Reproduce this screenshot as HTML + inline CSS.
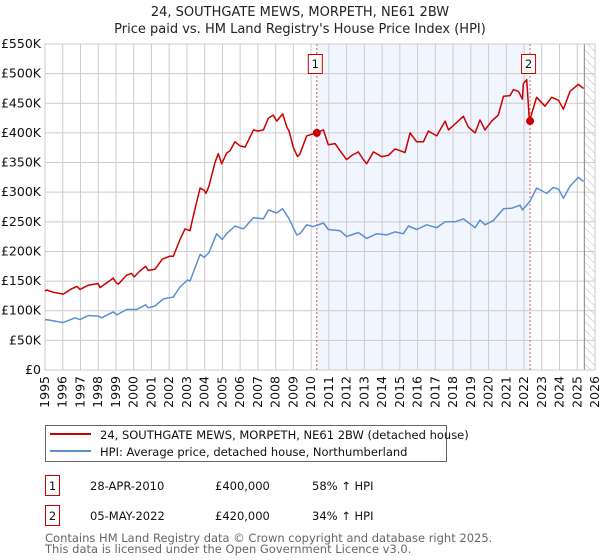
<!DOCTYPE html>
<html><head><meta charset="utf-8"><style>
body{margin:0;background:#fff;font-family:"Liberation Sans","DejaVu Sans",sans-serif}
svg{display:block}
</style></head><body>
<svg id="c" width="600" height="560" viewBox="0 0 600 560" font-family="DejaVu Sans, Liberation Sans, sans-serif">
<defs><pattern id="hatch" width="6" height="6" patternUnits="userSpaceOnUse" patternTransform="rotate(-45)"><line x1="0" y1="0" x2="0" y2="6" stroke="#bbb" stroke-width="1"/></pattern></defs>
<text x="300" y="16" text-anchor="middle" font-size="13" fill="#222">24, SOUTHGATE MEWS, MORPETH, NE61 2BW</text>
<text x="300" y="33" text-anchor="middle" font-size="13" fill="#222">Price paid vs. HM Land Registry's House Price Index (HPI)</text>
<g id="plot"></g>
<g>
<rect x="45.5" y="425.5" width="401" height="36" fill="#fff" stroke="#666"/>
<line x1="50" y1="434" x2="91" y2="434" stroke="#cc0000" stroke-width="2"/>
<text x="100" y="439" font-size="11.5" fill="#111">24, SOUTHGATE MEWS, MORPETH, NE61 2BW (detached house)</text>
<line x1="50" y1="451" x2="91" y2="451" stroke="#5b8fd0" stroke-width="2"/>
<text x="100" y="456" font-size="11.5" fill="#111">HPI: Average price, detached house, Northumberland</text>
</g>
<g font-size="11.5" fill="#111">
<rect x="45.5" y="475.5" width="14" height="20" fill="#fff" stroke="#cc0000"/>
<text x="52.5" y="490" text-anchor="middle">1</text>
<text x="90" y="490">28-APR-2010</text>
<text x="215" y="490">£400,000</text>
<text x="312" y="490">58% ↑ HPI</text>
<rect x="45.5" y="505.5" width="14" height="20" fill="#fff" stroke="#cc0000"/>
<text x="52.5" y="520" text-anchor="middle">2</text>
<text x="90" y="520">05-MAY-2022</text>
<text x="215" y="520">£420,000</text>
<text x="312" y="520">34% ↑ HPI</text>
</g>
<text x="45" y="542" font-size="11.5" fill="#666">Contains HM Land Registry data © Crown copyright and database right 2025.</text>
<text x="45" y="553" font-size="11.5" fill="#666">This data is licensed under the Open Government Licence v3.0.</text>
</svg>
<script>
const yTicks=[0,50,100,150,200,250,300,350,400,450,500,550];
const yTickLabels=["£0","£50K","£100K","£150K","£200K","£250K","£300K","£350K","£400K","£450K","£500K","£550K"];
const xTicks=[1995,1996,1997,1998,1999,2000,2001,2002,2003,2004,2005,2006,2007,2008,2009,2010,2011,2012,2013,2014,2015,2016,2017,2018,2019,2020,2021,2022,2023,2024,2025,2026];
const saleYears=[2010.32,2022.34];
const saleValues=[400,420];
const saleLabels=["1","2"];
const dataEnd=2025.4;
const redYears=[1995.0,1995.09,1995.5,1996.03,1996.5,1996.8,1996.97,1997.44,1998.0,1998.1,1998.85,1999.02,1999.13,1999.6,1999.88,2000.03,2000.35,2000.67,2000.82,2001.2,2001.61,2002.03,2002.23,2002.61,2002.89,2003.17,2003.36,2003.74,2003.98,2004.07,2004.24,2004.58,2004.77,2004.96,2005.24,2005.43,2005.71,2005.99,2006.28,2006.75,2006.99,2007.31,2007.59,2007.87,2008.06,2008.4,2008.63,2008.76,2009.0,2009.23,2009.37,2009.75,2010.26,2010.69,2010.97,2011.35,2011.63,2012.0,2012.29,2012.66,2012.94,2013.13,2013.51,2013.98,2014.35,2014.73,2015.01,2015.29,2015.58,2015.95,2016.33,2016.61,2017.08,2017.55,2017.74,2018.11,2018.58,2018.86,2019.24,2019.52,2019.8,2020.18,2020.55,2020.84,2021.21,2021.4,2021.68,2021.91,2021.96,2022.15,2022.3,2022.71,2023.18,2023.56,2023.94,2024.22,2024.59,2025.06,2025.35];
const redValues=[133,135,131,128,137,141,136,143,146,139,155,147,145,160,163,157,167,175,168,170,187,192,192,220,238,235,260,307,303,298,310,350,365,348,366,370,385,378,376,405,403,405,425,430,420,432,410,403,375,360,365,395,400,405,380,382,370,355,362,368,355,348,368,360,362,373,370,367,400,385,385,403,395,420,405,415,428,410,400,422,405,420,430,462,463,473,470,457,483,490,420,460,445,460,455,440,470,482,475];
const blueYears=[1995.0,1995.09,1996.03,1996.69,1996.97,1997.44,1998.0,1998.19,1998.85,1999.04,1999.6,2000.17,2000.67,2000.82,2001.2,2001.67,2002.03,2002.23,2002.61,2003.04,2003.17,2003.74,2003.98,2004.24,2004.68,2004.99,2005.24,2005.71,2006.18,2006.75,2007.31,2007.59,2008.06,2008.4,2008.76,2009.19,2009.37,2009.75,2010.13,2010.69,2010.97,2011.63,2012.0,2012.66,2013.13,2013.7,2014.26,2014.73,2015.2,2015.48,2015.95,2016.51,2017.08,2017.55,2018.11,2018.58,2019.24,2019.52,2019.8,2020.27,2020.84,2021.31,2021.78,2021.91,2022.34,2022.71,2023.28,2023.65,2023.94,2024.22,2024.59,2025.06,2025.35];
const blueValues=[84,85,80,88,85,92,91,88,98,93,102,102,110,105,108,120,122,123,140,152,150,195,190,198,230,220,230,243,238,257,255,270,265,272,255,228,230,245,242,248,237,235,225,232,222,230,228,233,230,243,237,245,240,250,250,255,240,253,245,252,272,273,278,270,285,307,298,308,305,290,310,325,318];

const X0=45,X1=595,Y0=370,Y1=44;
const xs=y=>X0+(y-1995)/(2026-1995)*(X1-X0);
const ys=v=>Y0-v/550*(Y0-Y1);
const NS="http://www.w3.org/2000/svg";
const plot=document.getElementById('plot');
function mk(tag,attrs,parent){const e=document.createElementNS(NS,tag);for(const k in attrs)e.setAttribute(k,attrs[k]);(parent||plot).appendChild(e);return e;}

let e=mk('rect',{x:xs(saleYears[0]),y:Y1,width:xs(saleYears[1])-xs(saleYears[0]),height:Y0-Y1,fill:'#eef3fc',opacity:0.8});


e=mk('rect',{x:xs(dataEnd),y:Y1,width:X1-xs(dataEnd),height:Y0-Y1,fill:'url(#hatch)'});



yTicks.forEach((t,i)=>{
  let g=mk('line',{x1:X0,x2:X1,y1:ys(t),y2:ys(t),stroke:'#cccccc','stroke-width':1});
  
  
  let l=mk('text',{x:X0-4,y:ys(t)+4,'text-anchor':'end','font-size':12.5,fill:'#111'});
  l.textContent=yTickLabels[i];
  
  
});
xTicks.forEach(t=>{
  let g=mk('line',{x1:xs(t),x2:xs(t),y1:Y1,y2:Y0,stroke:'#cccccc','stroke-width':1});
  
  
  let l=mk('text',{x:0,y:0,'text-anchor':'end','font-size':12.5,fill:'#111',transform:`translate(${xs(t)+4},${Y0+6}) rotate(-90)`});
  l.textContent=t;
  
  
});
e=mk('line',{x1:xs(dataEnd),x2:xs(dataEnd),y1:Y1,y2:Y0,stroke:'#888','stroke-width':1});


e=mk('rect',{x:X0,y:Y1,width:X1-X0,height:Y0-Y1,fill:'none',stroke:'#cccccc'});



saleYears.forEach((s,i)=>{
  let l=mk('line',{x1:xs(s),x2:xs(s),y1:Y1,y2:Y0,stroke:'#e06060','stroke-width':1,'stroke-dasharray':'2,2'});
  
  
});

function path(xa,va,color,name){
  const d=xa.map((x,i)=>(i?'L':'M')+xs(x).toFixed(1)+','+ys(va[i]).toFixed(1)).join('');
  const p=mk('path',{d:d,fill:'none',stroke:color,'stroke-width':1.5,'stroke-linejoin':'round'});
  
  
}
path(blueYears,blueValues,'#5b8fd0','hpi-line');
path(redYears,redValues,'#cc0000','property-price-line');

saleYears.forEach((s,i)=>{
  let c=mk('circle',{cx:xs(s),cy:ys(saleValues[i]),r:4,fill:'#cc0000'});
  
  
  let b=mk('rect',{x:xs(s)-8.5,y:54.5,width:14,height:19,fill:'#fff',stroke:'#cc0000'});
  
  
  let t=mk('text',{x:xs(s)-1.5,y:68,'text-anchor':'middle','font-size':11.5,fill:'#111'});
  t.textContent=saleLabels[i];
  
  
});
</script>
</body></html>
